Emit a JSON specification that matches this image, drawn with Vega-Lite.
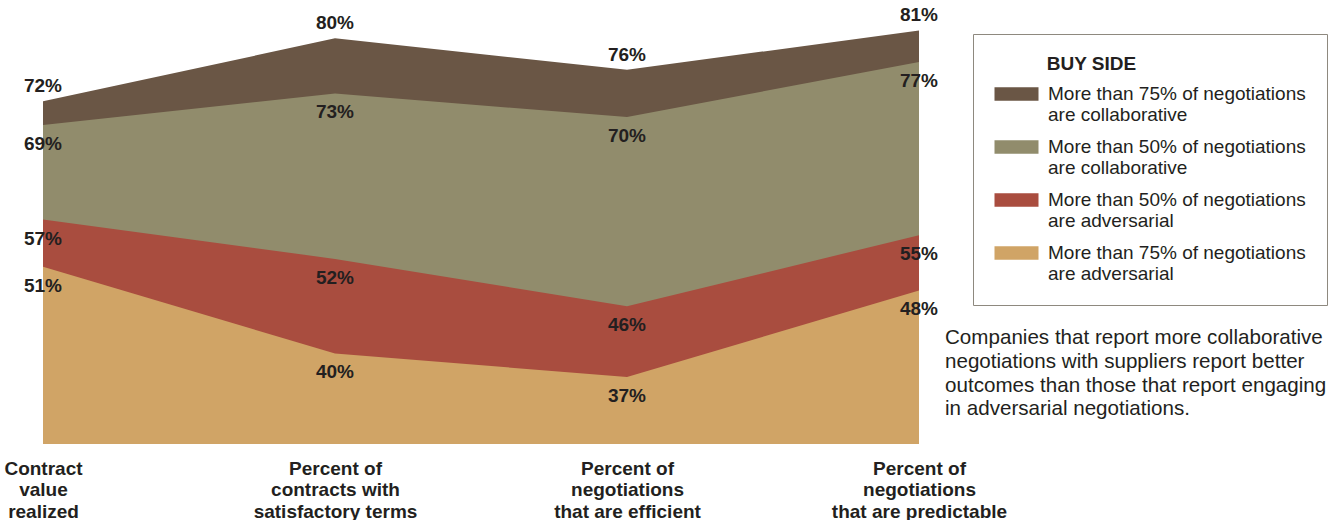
{
  "$schema": "https://vega.github.io/schema/vega-lite/v6.json",
  "width": 876,
  "height": 443,
  "autosize": {"type": "none"},
  "padding": {"left": 43, "top": 1, "right": 416, "bottom": 76},
  "config": {
    "view": {"stroke": null},
    "font": "Liberation Sans"
  },
  "title": {
    "text": [
      "Companies that report more collaborative",
      "negotiations with suppliers report better",
      "outcomes than those that report engaging",
      "in adversarial negotiations."
    ],
    "orient": "top",
    "anchor": "start",
    "frame": "group",
    "align": "left",
    "baseline": "top",
    "offset": 0,
    "dx": 902,
    "dy": 419,
    "font": "Liberation Sans",
    "fontSize": 20.6,
    "fontWeight": "normal",
    "color": "#231f20",
    "lineHeight": 23.8
  },
  "data": {
    "values": [
      {"measure": "Contract|value|realized", "series": "More than 75% of negotiations are collaborative", "value": 0.72},
      {"measure": "Percent of|contracts with|satisfactory terms", "series": "More than 75% of negotiations are collaborative", "value": 0.80},
      {"measure": "Percent of|negotiations|that are efficient", "series": "More than 75% of negotiations are collaborative", "value": 0.76},
      {"measure": "Percent of|negotiations|that are predictable", "series": "More than 75% of negotiations are collaborative", "value": 0.81},
      {"measure": "Contract|value|realized", "series": "More than 50% of negotiations are collaborative", "value": 0.69},
      {"measure": "Percent of|contracts with|satisfactory terms", "series": "More than 50% of negotiations are collaborative", "value": 0.73},
      {"measure": "Percent of|negotiations|that are efficient", "series": "More than 50% of negotiations are collaborative", "value": 0.70},
      {"measure": "Percent of|negotiations|that are predictable", "series": "More than 50% of negotiations are collaborative", "value": 0.77},
      {"measure": "Contract|value|realized", "series": "More than 50% of negotiations are adversarial", "value": 0.57},
      {"measure": "Percent of|contracts with|satisfactory terms", "series": "More than 50% of negotiations are adversarial", "value": 0.52},
      {"measure": "Percent of|negotiations|that are efficient", "series": "More than 50% of negotiations are adversarial", "value": 0.46},
      {"measure": "Percent of|negotiations|that are predictable", "series": "More than 50% of negotiations are adversarial", "value": 0.55},
      {"measure": "Contract|value|realized", "series": "More than 75% of negotiations are adversarial", "value": 0.51},
      {"measure": "Percent of|contracts with|satisfactory terms", "series": "More than 75% of negotiations are adversarial", "value": 0.40},
      {"measure": "Percent of|negotiations|that are efficient", "series": "More than 75% of negotiations are adversarial", "value": 0.37},
      {"measure": "Percent of|negotiations|that are predictable", "series": "More than 75% of negotiations are adversarial", "value": 0.48}
    ]
  },
  "encoding": {
    "x": {
      "field": "measure",
      "type": "nominal",
      "sort": null,
      "scale": {"type": "point", "padding": 0},
      "axis": {
        "title": null,
        "domain": false,
        "ticks": false,
        "grid": false,
        "labelAngle": 0,
        "labelAlign": "center",
        "labelBaseline": "top",
        "labelPadding": 15,
        "labelFont": "Liberation Sans",
        "labelFontSize": 19,
        "labelFontWeight": "bold",
        "labelColor": "#231f20",
        "labelLineHeight": 21.5,
        "labelOverlap": false,
        "labelBound": false,
        "labelLimit": 300,
        "labelExpr": "split(datum.label, '|')"
      }
    },
    "y": {
      "field": "value",
      "type": "quantitative",
      "stack": null,
      "scale": {"domain": [0.285, 0.8474], "zero": false, "nice": false},
      "axis": null
    }
  },
  "layer": [
    {
      "mark": {"type": "area", "interpolate": "linear", "opacity": 1, "line": false},
      "encoding": {
        "color": {
          "field": "series",
          "type": "nominal",
          "sort": null,
          "scale": {
            "domain": [
              "More than 75% of negotiations are collaborative",
              "More than 50% of negotiations are collaborative",
              "More than 50% of negotiations are adversarial",
              "More than 75% of negotiations are adversarial"
            ],
            "range": ["#6a5645", "#918c6c", "#a94d3f", "#d0a466"]
          },
          "legend": {
            "orient": "none",
            "legendX": 930,
            "legendY": 33,
            "title": "\u200b\u00a0\u00a0\u00a0\u00a0\u00a0\u00a0\u00a0\u00a0\u00a0\u00a0BUY SIDE",
            "titleFont": "Liberation Sans",
            "titleFontSize": 19,
            "titleFontWeight": "bold",
            "titleColor": "#231f20",
            "titleAnchor": "start",
            "titlePadding": 1.5,
            "titleLimit": 400,
            "labelFont": "Liberation Sans",
            "labelFontSize": 19,
            "labelColor": "#231f20",
            "labelLineHeight": 22,
            "labelBaseline": "top",
            "labelLimit": 400,
            "labelOffset": 35,
            "labelExpr": "[substring(datum.label, 0, 29), substring(datum.label, 30)]",
            "symbolType": "M-1.8,0.46L7,0.46L7,3.14L-1.8,3.14Z",
            "symbolSize": 100,
            "symbolStrokeWidth": 0,
            "symbolOpacity": 1,
            "rowPadding": 3,
            "padding": 21,
            "strokeColor": "#8e897f",
            "fillColor": "white",
            "cornerRadius": 0
          }
        }
      }
    },
    {
      "transform": [{"filter": "datum.series === 'More than 75% of negotiations are collaborative'"}],
      "mark": {"type": "text", "baseline": "middle", "align": "center", "dy": -15, "fontSize": 19, "fontWeight": "bold", "color": "#231f20"},
      "encoding": {
        "text": {"field": "value", "type": "quantitative", "format": ".0%"}
      }
    },
    {
      "transform": [{"filter": "datum.series !== 'More than 75% of negotiations are collaborative'"}],
      "mark": {"type": "text", "baseline": "middle", "align": "center", "dy": 19, "fontSize": 19, "fontWeight": "bold", "color": "#231f20"},
      "encoding": {
        "text": {"field": "value", "type": "quantitative", "format": ".0%"}
      }
    }
  ]
}
